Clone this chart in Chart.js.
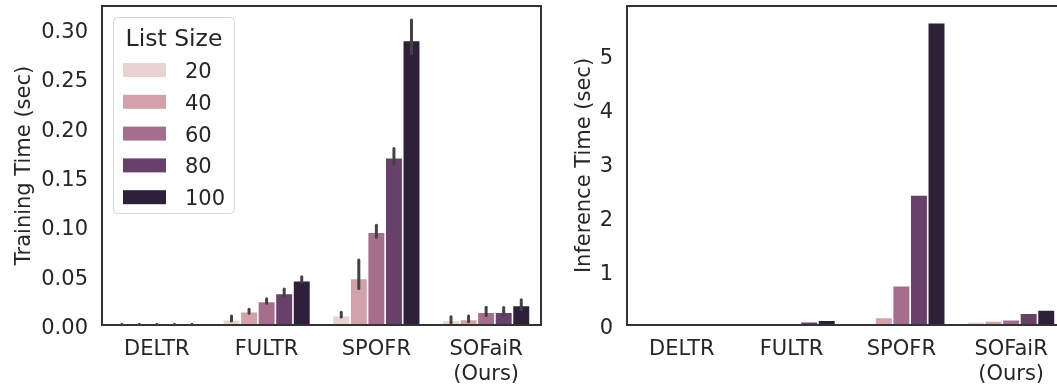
<!DOCTYPE html>
<html lang="en">
<head>
<meta charset="UTF-8" />
<title>Training and Inference Time</title>
<script src="https://cdn.jsdelivr.net/npm/chart.js"></script>
<style>
  html, body { margin: 0; padding: 0; overflow: hidden; background: #fff; }
  body { width: 1057px; height: 386px; position: relative; }
  canvas { position: absolute; top: 0; }
  #trainChart { left: 0; }
  #inferChart { left: 560px; }
</style>
</head>
<body>
<canvas id="trainChart" width="560" height="386"></canvas>
<canvas id="inferChart" width="520" height="386"></canvas>
<script>
// data
const methods = [['DELTR'], ['FULTR'], ['SPOFR'], ['SOFaiR', '(Ours)']];
const listSizes = ['20', '40', '60', '80', '100'];

// training time (sec), one array per list size, ordered like methods
const train20 = [0.0005, 0.0054, 0.0098, 0.0046];
const train40 = [0.0005, 0.0134, 0.0473, 0.0056];
const train60 = [0.0005, 0.0238, 0.0940, 0.0130];
const train80 = [0.0005, 0.0319, 0.1696, 0.0130];
const train100 = [0.0005, 0.0450, 0.2885, 0.0197];

// error bar ranges [low, high]
const train20Err = [[0.0003, 0.0007], [0.0040, 0.0090], [0.0080, 0.0130], [0.0022, 0.0083]];
const train40Err = [[0.0003, 0.0007], [0.0120, 0.0160], [0.0370, 0.0660], [0.0032, 0.0090]];
const train60Err = [[0.0003, 0.0007], [0.0220, 0.0265], [0.0890, 0.1010], [0.0096, 0.0180]];
const train80Err = [[0.0003, 0.0007], [0.0300, 0.0366], [0.1630, 0.1790], [0.0103, 0.0177]];
const train100Err = [[0.0003, 0.0007], [0.0430, 0.0490], [0.2750, 0.3090], [0.0154, 0.0255]];

// inference time (sec)
const infer20 = [0.002, 0.005, 0.010, 0.060];
const infer40 = [0.002, 0.010, 0.140, 0.075];
const infer60 = [0.002, 0.025, 0.730, 0.100];
const infer80 = [0.002, 0.060, 2.410, 0.220];
const infer100 = [0.002, 0.090, 5.600, 0.280];

const trainTicks = [0, 0.05, 0.10, 0.15, 0.20, 0.25, 0.30];
const inferTicks = [0, 1, 2, 3, 4, 5];

const palette = ['#e9d3d0', '#d2a1aa', '#a56e8c', '#674169', '#2e2039'];
const textColor = '#262626';
const font = { family: 'DejaVu Sans', size: 21 };

const trainSeries = [train20, train40, train60, train80, train100];
const trainErrs = [train20Err, train40Err, train60Err, train80Err, train100Err];
const inferSeries = [infer20, infer40, infer60, infer80, infer100];

function makeDatasets(series) {
  return series.map((vals, i) => ({
    label: listSizes[i],
    data: vals,
    backgroundColor: palette[i],
    borderColor: '#ffffff',
    borderWidth: 0.8,
    categoryPercentage: 0.8,
    barPercentage: 1.0
  }));
}

// box around the plotting area
const framePlugin = {
  id: 'frame',
  afterDatasetsDraw(chart) {
    const { ctx, chartArea: a } = chart;
    ctx.save();
    ctx.strokeStyle = '#333333';
    ctx.lineWidth = 2;
    ctx.strokeRect(a.left, a.top, a.right - a.left, a.bottom - a.top);
    ctx.restore();
  }
};

const errorBarPlugin = {
  id: 'errorBars',
  afterDatasetsDraw(chart, args, opts) {
    if (!opts.ranges) return;
    const { ctx } = chart;
    const y = chart.scales.y;
    ctx.save();
    ctx.strokeStyle = '#424242';
    ctx.lineWidth = 3;
    ctx.lineCap = 'round';
    opts.ranges.forEach((ranges, i) => {
      const meta = chart.getDatasetMeta(i);
      ranges.forEach((r, j) => {
        const bar = meta.data[j];
        ctx.beginPath();
        ctx.moveTo(bar.x, y.getPixelForValue(r[0]));
        ctx.lineTo(bar.x, y.getPixelForValue(r[1]));
        ctx.stroke();
      });
    });
    ctx.restore();
  }
};

const boxLegendPlugin = {
  id: 'boxLegend',
  afterDraw(chart, args, opts) {
    if (!opts.show) return;
    const { ctx } = chart;
    const x0 = 113.5, y0 = 17.5, w = 121, h = 196;
    ctx.save();
    ctx.fillStyle = 'rgba(255,255,255,0.85)';
    ctx.strokeStyle = '#d6d6d6';
    ctx.lineWidth = 1;
    ctx.beginPath();
    ctx.roundRect(x0, y0, w, h, 4);
    ctx.fill();
    ctx.stroke();
    ctx.fillStyle = textColor;
    ctx.textBaseline = 'middle';
    ctx.textAlign = 'center';
    ctx.font = '23.5px "DejaVu Sans"';
    ctx.fillText(opts.title, x0 + w / 2, 39.5);
    ctx.textAlign = 'left';
    ctx.font = '21px "DejaVu Sans"';
    chart.data.datasets.forEach((ds, i) => {
      const cy = 70 + i * 31.8;
      ctx.fillStyle = ds.backgroundColor;
      ctx.fillRect(123, cy - 7, 43, 14);
      ctx.fillStyle = textColor;
      ctx.fillText(ds.label, 185, cy + 2.5);
    });
    ctx.restore();
  }
};

function makeOptions(cfg) {
  return {
    responsive: false,
    animation: false,
    layout: { padding: { top: 6, right: cfg.padRight, left: 0, bottom: 0 } },
    plugins: {
      legend: { display: false },
      tooltip: { enabled: false },
      errorBars: { ranges: cfg.ranges },
      boxLegend: { show: cfg.legend, title: 'List Size' }
    },
    scales: {
      x: {
        grid: { display: false, drawTicks: false },
        border: { display: false },
        ticks: { color: textColor, font: { ...font, lineHeight: 1.2 }, padding: 12, maxRotation: 0, autoSkip: false },
        afterFit(s) { s.height = 61; s.paddingLeft = 0; s.paddingRight = 0; }
      },
      y: {
        min: 0,
        max: cfg.max,
        grid: { display: false, drawTicks: false },
        border: { display: false },
        afterFit(s) { s.width = cfg.axisWidth; s.paddingTop = 0; s.paddingBottom = 0; },
        afterBuildTicks(s) { s.ticks = cfg.ticks.map(v => ({ value: v })); },
        ticks: {
          color: textColor,
          font: font,
          padding: 14,
          labelOffset: 3.5,
          callback: cfg.fmt
        },
        title: {
          display: true,
          text: cfg.yTitle,
          color: textColor,
          font: font,
          padding: { top: 12, bottom: 0 }
        }
      }
    }
  };
}

new Chart(document.getElementById('trainChart'), {
  type: 'bar',
  data: { labels: methods, datasets: makeDatasets(trainSeries) },
  options: makeOptions({
    max: 0.3233, ticks: trainTicks, fmt: v => v.toFixed(2),
    yTitle: 'Training Time (sec)', axisWidth: 102, padRight: 19,
    ranges: trainErrs, legend: true
  }),
  plugins: [framePlugin, errorBarPlugin, boxLegendPlugin]
});

new Chart(document.getElementById('inferChart'), {
  type: 'bar',
  data: { labels: methods, datasets: makeDatasets(inferSeries) },
  options: makeOptions({
    max: 5.907, ticks: inferTicks, fmt: v => String(v),
    yTitle: 'Inference Time (sec)', axisWidth: 67, padRight: 14,
    ranges: null, legend: false
  }),
  plugins: [framePlugin, errorBarPlugin, boxLegendPlugin]
});
</script>
</body>
</html>
